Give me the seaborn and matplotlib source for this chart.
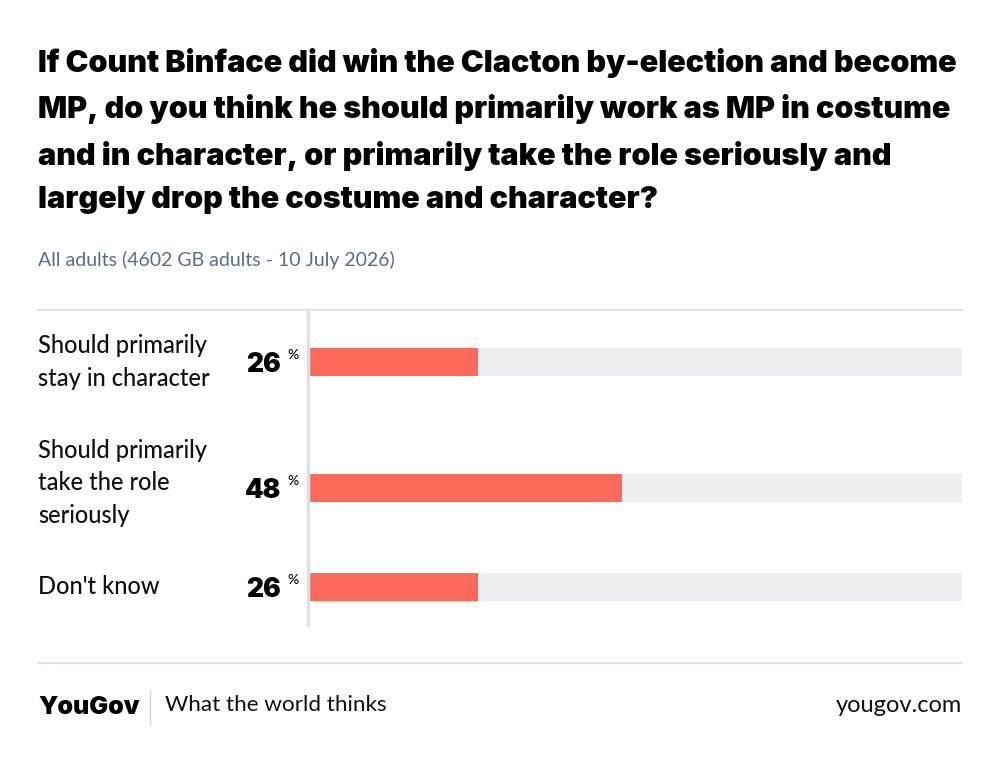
import matplotlib
matplotlib.use("Agg")
import matplotlib.pyplot as plt
import matplotlib.transforms as mtransforms
import pandas as pd
import seaborn as sns

# chart data
title = ("If Count Binface did win the Clacton by-election and become\n"
         "MP, do you think he should primarily work as MP in costume\n"
         "and in character, or primarily take the role seriously and\n"
         "largely drop the costume and character?")
subtitle = "All adults (4602 GB adults - 10 July 2026)"
categories = ["Should primarily\nstay in character",
              "Should primarily\ntake the role\nseriously",
              "Don't know"]
values = [26, 48, 26]
full_scale = 100

RED = "#fe6a5a"
TRACK = "#eeeff3"
RULE = "#dfe3ea"
SUB = "#5b6b8e"

W, H = 1000, 763
sns.set_theme(style="white")
plt.rcParams["font.family"] = ["Lato", "DejaVu Sans"]
HEAVY = ["Inter", "Lato", "DejaVu Sans"]


def fx(x):
    return x / W


def fy(y):
    return 1 - y / H


# row positions from the number of label lines (taller labels get more room)
lines = [c.count("\n") + 1 for c in categories]
rows = [0.0]
for a, b in zip(lines[:-1], lines[1:]):
    rows.append(rows[-1] + (a + b) / 2 - 1 / 6)
unit = 54.0  # px per row unit
min_gap = min(b - a for a, b in zip(rows[:-1], rows[1:]))
bar_w = (28 / unit) / min_gap

df = pd.DataFrame({"row": rows, "value": values, "track": [full_scale] * len(values)})

fig = plt.figure(figsize=(W / 100, H / 100), dpi=100)
ax = fig.add_axes([fx(308), fy(625), fx(962) - fx(308), (625 - 310) / H])

sns.barplot(data=df, x="track", y="row", orient="y", native_scale=True,
            color=TRACK, width=bar_w, saturation=1, ax=ax, linewidth=0)
sns.barplot(data=df, x="value", y="row", orient="y", native_scale=True,
            color=RED, width=bar_w, saturation=1, ax=ax, linewidth=0)

ax.set_xlim(0, full_scale)
ax.set_ylim(rows[-1] + (625 - 587) / unit, rows[0] - (362 - 310) / unit)
ax.set_xlabel("")
ax.set_ylabel("")
ax.set_xticks([])
ax.set_yticks([])
for side in ["top", "right", "bottom"]:
    ax.spines[side].set_visible(False)
ax.spines["left"].set_color("#dde1e8")
ax.spines["left"].set_linewidth(2.5)
ax.patch.set_alpha(0)

blend = mtransforms.blended_transform_factory(fig.transFigure, ax.transData)
for r, n, cat, v in zip(rows, lines, categories, values):
    shift = -5 / unit if n > 2 else 0
    ax.text(fx(38), r + shift, cat, transform=blend, ha="left", va="center",
            fontsize=17, color="#111111", linespacing=1.5, fontweight="medium")
    ax.text(fx(281), r + 3 / unit, f"{v}", transform=blend, ha="right", va="center",
            fontsize=19, fontweight="black", color="#000000", family=HEAVY)
    ax.text(fx(287), r - 7 / unit, "%", transform=blend, ha="left", va="center",
            fontsize=10, fontweight="medium", color="#000000")

# title and subtitle
fig.text(fx(38), fy(48), title, ha="left", va="top", fontsize=22,
         fontweight="black", color="#000000", linespacing=1.68, family=HEAVY)
fig.text(fx(38), fy(260), subtitle, ha="left", va="center", fontsize=14, color=SUB)

# rules
fig.add_artist(plt.Line2D([fx(38), fx(962)], [fy(310), fy(310)], color=RULE, lw=1.5))
fig.add_artist(plt.Line2D([fx(38), fx(962)], [fy(663), fy(663)], color=RULE, lw=1.5))
fig.add_artist(plt.Line2D([fx(150), fx(150)], [fy(690), fy(725)], color="#d5d8de", lw=1))

# footer
fig.text(fx(38), fy(707), "YouGov", ha="left", va="center", fontsize=18,
         fontweight="black", color="#000000", family=HEAVY)
fig.text(fx(165), fy(705), "What the world thinks", ha="left", va="center",
         fontsize=16.2, color="#111111")
fig.text(fx(962), fy(705), "yougov.com", ha="right", va="center",
         fontsize=17, color="#111111")

fig.savefig("out.png", dpi=100, facecolor="white")
